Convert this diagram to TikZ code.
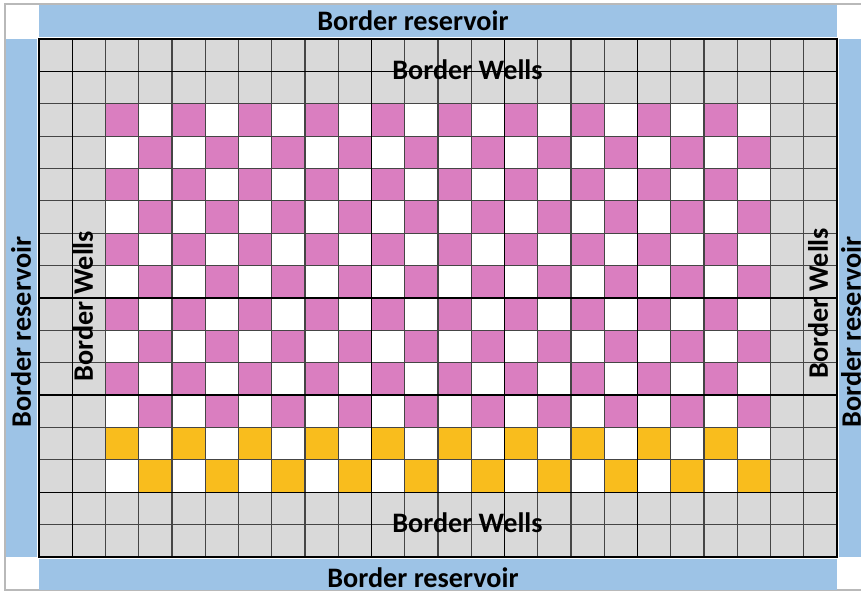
\documentclass[tikz,border=0pt]{standalone}
\usepackage{fontspec}
\setmainfont{Carlito}
\definecolor{bandblue}{HTML}{9DC3E6}
\definecolor{cellgray}{HTML}{D9D9D9}
\definecolor{pinkcell}{HTML}{DA7EC0}
\definecolor{yellowcell}{HTML}{F9BD1D}
\definecolor{gridgray}{HTML}{454545}
\begin{document}
\begin{tikzpicture}[x=1pt,y=-1pt,
  lbl/.style={font=\fontsize{28.2}{30}\selectfont\bfseries, inner sep=0pt, text=black},
  gridline/.style={draw=gridgray, line width=1.1pt},
  heavyline/.style={draw=black, line width=1.35pt}]
\useasboundingbox (0,0) rectangle (861,591);
\fill[white] (0,0) rectangle (861,591);
% outer frame
\draw[gray!55, line width=1.3pt] (5,4) rectangle (890,590);
% reservoir bands
\fill[bandblue] (39,5) rectangle (837,37);
\fill[bandblue] (39,559) rectangle (837,589.5);
\fill[bandblue] (5.7,39) rectangle (37,557);
\fill[bandblue] (839,39) rectangle (870,557);
% grid background (wells)
\fill[cellgray] (39,39) rectangle (837,557);
% checkerboard interior
\foreach \c in {2,...,21}{
  \foreach \r in {2,...,13}{
    \pgfmathtruncatemacro{\p}{mod(\c+\r,2)}
    \ifnum\p=0
      \ifnum\r<12 \def\cellcol{pinkcell}\else\def\cellcol{yellowcell}\fi
    \else
      \def\cellcol{white}
    \fi
    \fill[\cellcol] ({39+\c*33.25},{39+\r*32.375}) rectangle ++(33.25,32.375);
  }
}
% grid lines
\foreach \c in {0,...,24}{
  \draw[gridline] ({39+\c*33.25},39) -- ({39+\c*33.25},557);
}
\foreach \r in {0,...,16}{
  \draw[gridline] (39,{39+\r*32.375}) -- (837,{39+\r*32.375});
}
% heavier lines
\foreach \c in {1,10,14,18}{
  \draw[heavyline] ({39+\c*33.25},39) -- ({39+\c*33.25},557);
}
\foreach \r in {1,8,11,14}{
  \draw[heavyline] (39,{39+\r*32.375}) -- (837,{39+\r*32.375});
}
\draw[heavyline] (39,39) rectangle (837,557);
% labels
\node[lbl] (restop) at (413,21) {Border reservoir};
\node[lbl] (resbot) at (423,577.5) {Border reservoir};
\node[lbl, rotate=90] (resleft) at (21,332) {Border reservoir};
\node[lbl, rotate=90] (resright) at (851,332) {Border reservoir};
\node[lbl] (welltop) at (467.5,70) {Border Wells};
\node[lbl] (wellbot) at (467.5,523) {Border Wells};
\node[lbl, rotate=90] (wellleft) at (83,306) {Border Wells};
\node[lbl, rotate=90] (wellright) at (818,303) {Border Wells};
\end{tikzpicture}
\end{document}
